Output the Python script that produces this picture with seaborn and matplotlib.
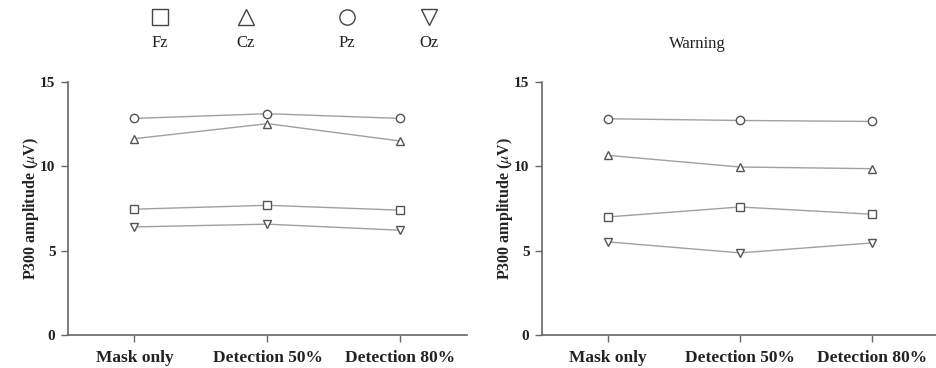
import matplotlib
matplotlib.use("Agg")
import matplotlib.pyplot as plt
from matplotlib.lines import Line2D
import seaborn as sns
import pandas as pd

conditions = ["Mask only", "Detection 50%", "Detection 80%"]
electrodes = ["Fz", "Cz", "Pz", "Oz"]

# left panel
left_fz = [7.46, 7.69, 7.40]
left_cz = [11.64, 12.53, 11.50]
left_pz = [12.84, 13.12, 12.84]
left_oz = [6.41, 6.57, 6.21]

# right panel (Warning)
right_fz = [7.00, 7.59, 7.16]
right_cz = [10.65, 9.96, 9.86]
right_pz = [12.82, 12.72, 12.66]
right_oz = [5.52, 4.87, 5.46]

yticks = [0, 5, 10, 15]
title_right = "Warning"

sns.set_theme(style="white")
plt.rcParams["font.family"] = ["Liberation Serif", "DejaVu Serif"]
plt.rcParams["mathtext.fontset"] = "stix"

markers = {"Fz": "s", "Cz": "^", "Pz": "o", "Oz": "v"}
palette = {e: "#a0a0a0" for e in electrodes}


def make_df(fz, cz, pz, oz):
    rows = []
    for e, vals in zip(electrodes, [fz, cz, pz, oz]):
        for c, v in zip(conditions, vals):
            rows.append({"condition": c, "electrode": e, "amp": v})
    return pd.DataFrame(rows)


fig = plt.figure(figsize=(9.37, 3.68), dpi=100)
ax1 = fig.add_axes([68 / 937, 1 - 335 / 368, 399 / 937, (335 - 82) / 368])
ax2 = fig.add_axes([542 / 937, 1 - 335 / 368, 396 / 937, (335 - 82) / 368])

for ax, df, w in [(ax1, make_df(left_fz, left_cz, left_pz, left_oz), 399),
                  (ax2, make_df(right_fz, right_cz, right_pz, right_oz), 396)]:
    sns.lineplot(data=df, x="condition", y="amp", hue="electrode", style="electrode",
                 markers=markers, dashes=False, palette=palette, ax=ax, legend=False,
                 linewidth=1.0, markersize=6, markerfacecolor="white",
                 markeredgecolor="#555555", markeredgewidth=1.0)
    for ln in ax.get_lines():
        ln.set_markerfacecolor("white")
        ln.set_markeredgecolor("#555555")
    ax.set_xlim(-0.5, 2.5)
    ax.set_ylim(0, 15)
    ax.set_yticks(yticks)
    ax.set_yticklabels([str(t) for t in yticks], fontsize=11, fontweight="bold", color="#222222")
    ax.set_xticks(range(len(conditions)))
    ax.set_xticklabels(conditions, fontsize=12.5, fontweight="bold", color="#222222")
    ax.set_xlabel("")
    ax.set_ylabel(r"P300 amplitude ($\mu$V)", fontsize=11.5, fontweight="bold", color="#222222")
    ax.yaxis.set_label_coords(-27 / w, 0.5)
    for s in ["top", "right"]:
        ax.spines[s].set_visible(False)
    for s in ["left", "bottom"]:
        ax.spines[s].set_color("#666666")
        ax.spines[s].set_linewidth(1.2)
    ax.tick_params(axis="both", direction="out", length=5, width=1.0, color="#666666",
                   left=True, bottom=True)
    ax.tick_params(axis="x", pad=6)
    ax.tick_params(axis="y", pad=4)

# legend row at top
leg_x = [160, 246, 347, 429]
for e, xp in zip(electrodes, leg_x):
    fig.add_artist(Line2D([xp / 937], [1 - 17 / 368], transform=fig.transFigure,
                          marker=markers[e], markersize=11, markerfacecolor="white",
                          markeredgecolor="#444444", markeredgewidth=1.0, linestyle="none"))
    fig.text(xp / 937, 1 - 43 / 368, e, ha="center", va="center", fontsize=12, color="#222222")

fig.text(697 / 937, 1 - 44 / 368, title_right, ha="center", va="center", fontsize=12, color="#222222")

fig.savefig("out.png", dpi=100)
